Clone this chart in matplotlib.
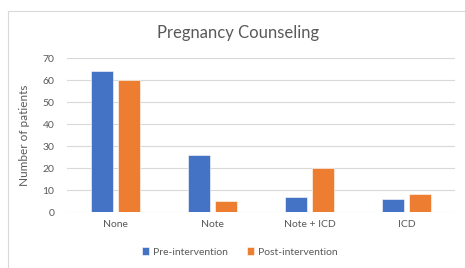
import numpy as np
import matplotlib
matplotlib.use('Agg')
import matplotlib.pyplot as plt
from matplotlib.patches import Rectangle

categories = ['None', 'Note', 'Note + ICD', 'ICD']
pre = [64, 26, 7, 6]
post = [60, 5, 20, 8]
series = ['Pre-intervention', 'Post-intervention']

BLUE = '#4472C4'
ORANGE = '#ED7D31'
TEXT = '#595959'
GRID = '#D9D9D9'

plt.rcParams['font.family'] = ['Lato', 'DejaVu Sans']

fig = plt.figure(figsize=(4.65, 2.68), dpi=100)
fig.patches.append(Rectangle((8 / 465, -0.01), 1.1, 1 - 11 / 268 + 0.01,
                             transform=fig.transFigure, fill=False,
                             edgecolor='#D9D9D9', linewidth=0.8))
ax = fig.add_axes([67 / 465, 56 / 268, 388 / 465, 154 / 268])

x = np.arange(len(categories))
w = 0.22
off = 0.139
ax.bar(x - off, pre, w, color=BLUE, label=series[0], zorder=3,
       edgecolor='white', linewidth=0.4)
ax.bar(x + off, post, w, color=ORANGE, label=series[1], zorder=3,
       edgecolor='white', linewidth=0.4)

ax.set_xlim(-0.5, len(categories) - 0.5)
ax.set_ylim(0, 70)
ax.set_yticks(range(0, 71, 10))
ax.set_xticks(x)
ax.set_xticklabels(categories)
ax.yaxis.grid(True, color=GRID, linewidth=0.8, zorder=0)
for s in ax.spines.values():
    s.set_visible(False)
ax.tick_params(length=0, colors=TEXT, labelsize=7.5)
ax.tick_params(axis='y', pad=9)
ax.tick_params(axis='x', pad=6)
ax.set_ylabel('Number of patients', color=TEXT, fontsize=8.5, labelpad=9)

fig.text(238 / 465, 1 - 33 / 268, 'Pregnancy Counseling', ha='center',
         va='center', color=TEXT, fontsize=12)

fig.legend(loc='center', bbox_to_anchor=(240 / 465, 1 - 252 / 268), ncol=2,
           frameon=False, fontsize=7.5, labelcolor=TEXT, handlelength=0.7,
           handleheight=0.7, handletextpad=0.4, columnspacing=1.8)

fig.savefig('out.png', dpi=100)
